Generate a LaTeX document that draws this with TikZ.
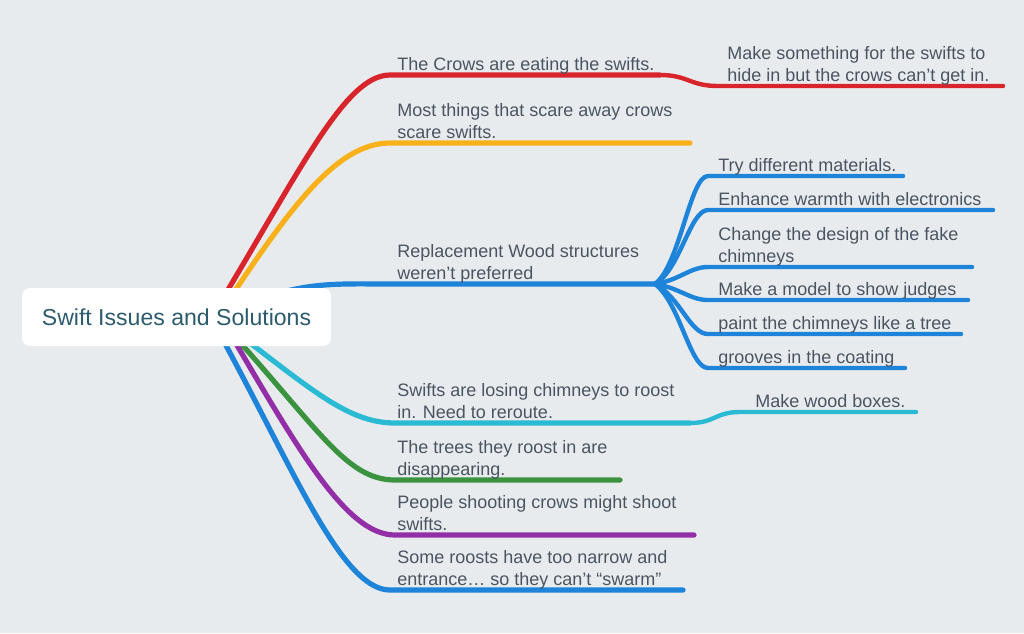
\documentclass[tikz,border=0pt]{standalone}
\usepackage{fontspec}
\setmainfont{Liberation Sans}
\definecolor{bg}{HTML}{E8EBEE}
\definecolor{txt}{HTML}{4A5561}
\definecolor{roottxt}{HTML}{2D5B6E}
\definecolor{cRed}{HTML}{D8252C}
\definecolor{cOrange}{HTML}{F9B11B}
\definecolor{cBlue}{HTML}{1D84D9}
\definecolor{cCyan}{HTML}{2BBAD3}
\definecolor{cGreen}{HTML}{3B9340}
\definecolor{cPurple}{HTML}{922FA7}
\begin{document}
\begin{tikzpicture}[x=0.75pt,y=-0.75pt,
  br/.style={line width=3.9pt, line cap=round},
  sub/.style={line width=3.3pt, line cap=round},
  lbl/.style={anchor=south west, inner sep=0pt, align=left, text=txt, font=\fontsize{13.5}{16.5}\selectfont},
]
\fill[bg] (0,0) rectangle (1024,633);
\useasboundingbox (0,0) rectangle (1024,633);

% main branch endpoints
\coordinate (sR) at (211,318);
\coordinate (sO) at (217,318);
\coordinate (sB) at (220,318);
\coordinate (sC) at (217,318);
\coordinate (sG) at (218,318);
\coordinate (sP) at (221,318);
\coordinate (sL) at (211,318);
\coordinate (fan) at (655,284);

% red
\draw[br, cRed] (sR) .. controls (301,169.5) and (345,75) .. (390,75) -- (660,75);
\draw[sub, cRed] (660,75) .. controls (688,75) and (690,86) .. (718,86) -- (1003,86);
% orange
\draw[br, cOrange] (sO) .. controls (287,211.6) and (335,143) .. (390,143) -- (690,143);
% replacement
\draw[br, cBlue] (sB) .. controls (290,280) and (330,284) .. (390,284) -- (fan);
\draw[sub, cBlue] (fan) .. controls (680,265) and (690,176) .. (708,176) -- (903,176);
\draw[sub, cBlue] (fan) .. controls (680,270) and (690,210) .. (708,210) -- (993,210);
\draw[sub, cBlue] (fan) .. controls (680,280) and (690,267) .. (708,267) -- (972,267);
\draw[sub, cBlue] (fan) .. controls (680,288) and (690,300) .. (708,300) -- (968,300);
\draw[sub, cBlue] (fan) .. controls (680,297) and (690,334) .. (708,334) -- (961,334);
\draw[sub, cBlue] (fan) .. controls (680,303) and (690,368) .. (708,368) -- (905,368);
% cyan
\draw[br, cCyan] (sC) .. controls (307,385) and (345,423) .. (395,423) -- (690,423);
\draw[sub, cCyan] (690,423) .. controls (715,423) and (715,412) .. (740,412) -- (916,412);
% green
\draw[br, cGreen] (sG) .. controls (318,427) and (345,480) .. (395,480) -- (620,480);
% purple
\draw[br, cPurple] (sP) .. controls (296,445.5) and (345,535) .. (395,535) -- (694,535);
% bottom blue
\draw[br, cBlue] (sL) .. controls (290,460) and (340,590) .. (390,590) -- (683,590);

% root
\node[fill=white, rounded corners=6pt, minimum width=231.75pt, minimum height=43.5pt, inner sep=0pt,
  text=roottxt, font=\fontsize{17.3}{20}\selectfont] (root) at (176.5,317) {Swift Issues and Solutions};

% labels
\node[lbl] (t1) at (397,77.5) {The Crows are eating the swifts.\strut};
\node[lbl] (t1a) at (727,88.5) {Make something for the swifts to\\hide in but the crows can’t get in.\strut};
\node[lbl] (t2) at (397,145.5) {Most things that scare away crows\\scare swifts.\strut};
\node[lbl] (t3) at (397,286.5) {Replacement Wood structures\\weren’t preferred\strut};
\node[lbl] (t3a) at (718,178.5) {Try different materials.\strut};
\node[lbl] (t3b) at (718,212.5) {Enhance warmth with electronics\strut};
\node[lbl] (t3c) at (718,269.5) {Change the design of the fake\\chimneys\strut};
\node[lbl] (t3d) at (718,302.5) {Make a model to show judges\strut};
\node[lbl] (t3e) at (718,336.5) {paint the chimneys like a tree\strut};
\node[lbl] (t3f) at (718,370.5) {grooves in the coating\strut};
\node[lbl] (t4) at (397,425.5) {Swifts are losing chimneys to roost\\in. Need to reroute.\strut};
\node[lbl] (t4a) at (755,414.5) {Make wood boxes.\strut};
\node[lbl] (t5) at (397,482.5) {The trees they roost in are\\disappearing.\strut};
\node[lbl] (t6) at (397,537.5) {People shooting crows might shoot\\swifts.\strut};
\node[lbl] (t7) at (397,592.5) {Some roosts have too narrow and\\entrance… so they can’t “swarm”\strut};
\end{tikzpicture}
\end{document}
